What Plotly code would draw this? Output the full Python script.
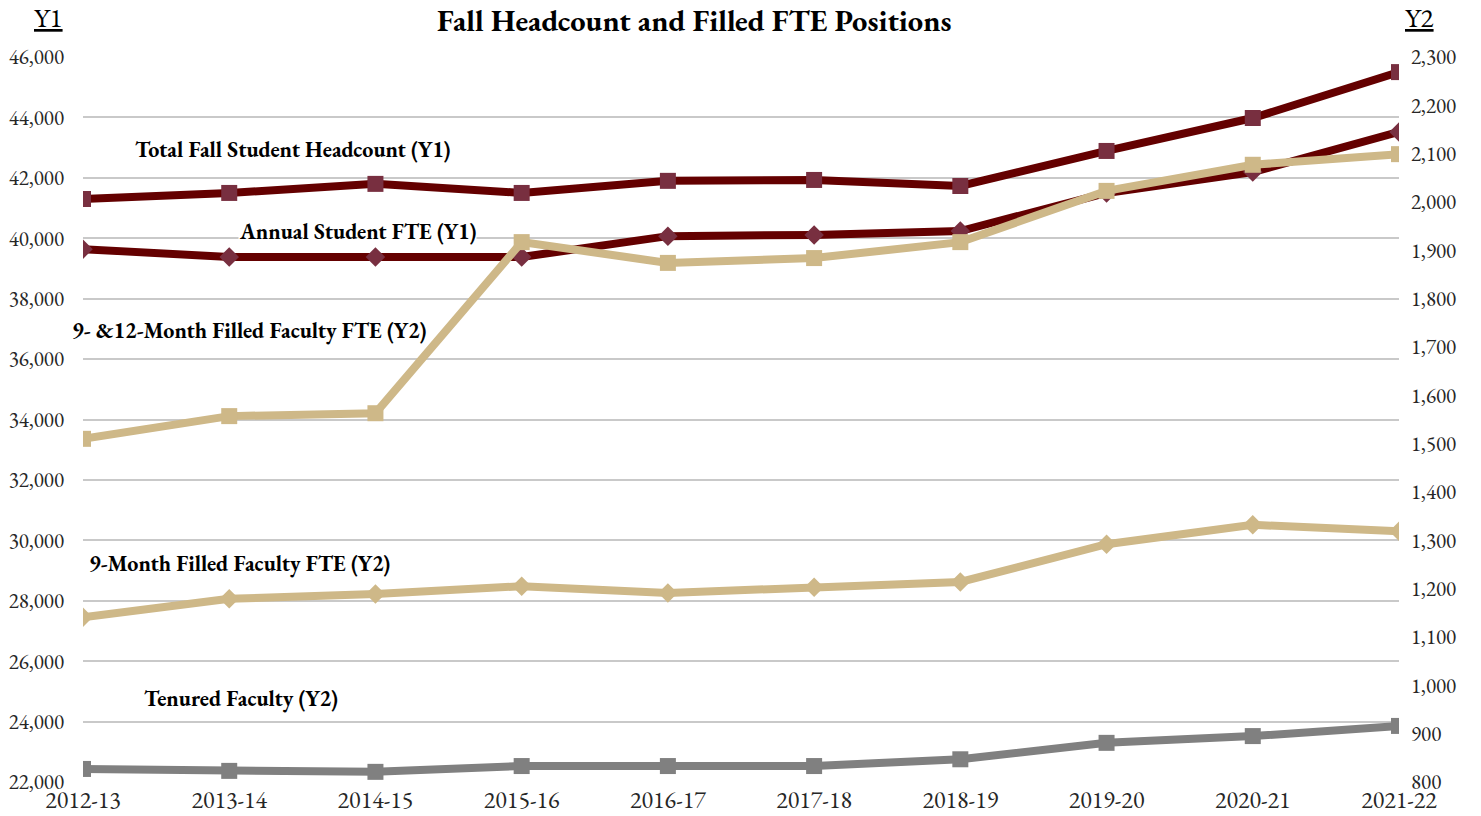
import plotly.graph_objects as go

years = ["2012-13", "2013-14", "2014-15", "2015-16", "2016-17",
         "2017-18", "2018-19", "2019-20", "2020-21", "2021-22"]
headcount = [41300, 41500, 41800, 41500, 41900, 41930, 41730, 42890, 43980, 45500]
student_fte = [39640, 39380, 39380, 39380, 40070, 40110, 40240, 41500, 42190, 43520]
fac_9_12 = [1510, 1557, 1563, 1917, 1874, 1884, 1917, 2023, 2077, 2099]
fac_9 = [1141, 1179, 1189, 1205, 1191, 1203, 1214, 1292, 1332, 1319]
tenured = [827, 823, 821, 833, 833, 833, 847, 881, 895, 916]

y1_ticks = list(range(22000, 46001, 2000))
y2_ticks = list(range(800, 2301, 100))

FONT = "Garamond, 'EB Garamond', 'Liberation Serif', 'DejaVu Serif', serif"
DARK_RED = "#640000"
MARK_RED = "#782F40"
TAN = "#CEB888"
GREY = "#808080"

fig = go.Figure()


def add(y, name, line_color, marker_color, symbol, size, axis):
    fig.add_trace(go.Scatter(
        x=years, y=y, name=name, yaxis=axis, mode="lines+markers",
        line=dict(color=line_color, width=8),
        marker=dict(symbol=symbol, size=size, color=marker_color),
        showlegend=False,
    ))


add(tenured, "Tenured Faculty", GREY, GREY, "square", 16, "y2")
add(fac_9, "9-Month Filled Faculty FTE", TAN, TAN, "diamond", 15, "y2")
add(fac_9_12, "9- &12-Month Filled Faculty FTE", TAN, TAN, "square", 16, "y2")
add(student_fte, "Annual Student FTE", DARK_RED, MARK_RED, "diamond", 15, "y")
add(headcount, "Total Fall Student Headcount", DARK_RED, MARK_RED, "square", 16, "y")

W, H = 1481, 816
L, R, T, B = 83, 82, 57, 34
pw, ph = W - L - R, H - T - B


def px(x):
    return (x - L) / pw


def py(y):
    return 1 - (y - T) / ph


labels = [
    ("Total Fall Student Headcount (Y1)", 134, 150),
    ("Annual Student FTE (Y1)", 238, 231),
    ("9- &12-Month Filled Faculty FTE (Y2)", 71, 330),
    ("9-Month Filled Faculty FTE (Y2)", 88, 563),
    ("Tenured Faculty (Y2)", 143, 698),
]
annotations = []
for text, x, y in labels:
    annotations.append(dict(
        text="<b>" + text + "</b>", xref="paper", yref="paper",
        x=px(x), y=py(y), xanchor="left", yanchor="middle", showarrow=False,
        font=dict(family=FONT, size=22, color="#000000"), bgcolor="white",
        borderpad=0,
    ))
annotations.append(dict(text="<u>Y1</u>", xref="paper", yref="paper",
                        x=px(48), y=py(18), xanchor="center", yanchor="middle",
                        showarrow=False, font=dict(family=FONT, size=27, color="#000")))
annotations.append(dict(text="<u>Y2</u>", xref="paper", yref="paper",
                        x=px(1419), y=py(18), xanchor="center", yanchor="middle",
                        showarrow=False, font=dict(family=FONT, size=27, color="#000")))
annotations.append(dict(text="<b>Fall Headcount and Filled FTE Positions</b>",
                        xref="paper", yref="paper", x=px(694), y=py(20),
                        xanchor="center", yanchor="middle", showarrow=False,
                        font=dict(family=FONT, size=30.5, color="#000")))

fig.update_layout(
    width=W, height=H,
    margin=dict(l=L, r=R, t=T, b=B, autoexpand=False),
    paper_bgcolor="white", plot_bgcolor="white",
    font=dict(family=FONT, size=21, color="#262626"),
    annotations=annotations,
    xaxis=dict(
        type="category", range=[0, len(years) - 1], automargin=False,
        showgrid=False, zeroline=False, showline=False,
        ticks="", tickfont=dict(size=24, color="#262626"),
        ticklabelstandoff=1,
    ),
    yaxis=dict(
        range=[22000, 46000], tickvals=y1_ticks, automargin=False,
        ticktext=[f"{v:,}" for v in y1_ticks],
        showgrid=True, gridcolor="#C9C9C9", gridwidth=2,
        zeroline=False, showline=False, ticks="",
        tickfont=dict(size=21, color="#262626"), ticklabelstandoff=18,
    ),
    yaxis2=dict(
        range=[800, 2300], tickvals=y2_ticks, automargin=False,
        ticktext=[f"{v:,}" for v in y2_ticks],
        overlaying="y", side="right", showgrid=False,
        zeroline=False, showline=False, ticks="",
        tickfont=dict(size=21, color="#262626"), ticklabelstandoff=11,
    ),
)

fig.write_html("out.html", config={"displayModeBar": False},
               post_script="document.body.style.margin='0px';")
